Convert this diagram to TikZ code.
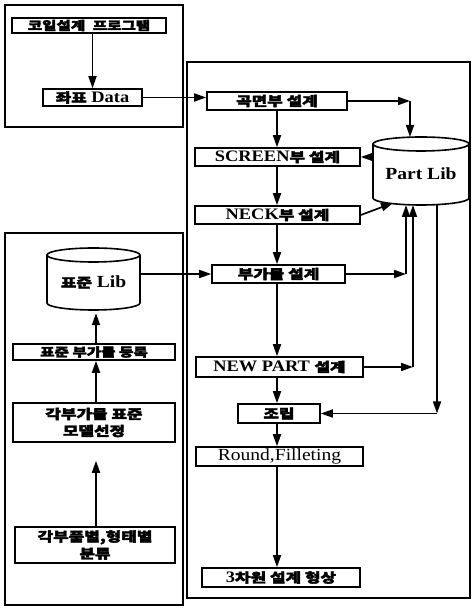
\documentclass[tikz,border=0pt]{standalone}
\usepackage{fontspec}
\setmainfont{Liberation Serif}[FakeStretch=1.15]
\newfontfamily\kr{Noto Sans CJK KR}[FakeBold=3,FakeStretch=1.3]
\newcommand{\krt}[1]{{\kr\bfseries\fontsize{13}{14}\selectfont #1}}
\usetikzlibrary{arrows.meta,calc}
\tikzset{
  box/.style={draw, line width=1.6pt, inner sep=0pt, font=\bfseries\fontsize{16}{16}\selectfont},
  frame/.style={draw, line width=1.5pt},
  arr/.style={line width=1.7pt, -{Triangle[length=12pt,width=8pt]}},
  ln/.style={line width=1.6pt},
  lib/.style={inner sep=0pt, font=\bfseries\fontsize{17}{17}\selectfont},
  krs/.style={font=\kr\bfseries\fontsize{13}{14}\selectfont}
}
\begin{document}
\begin{tikzpicture}[x=1pt,y=1pt]
\useasboundingbox (0,0) rectangle (476,610);
% frames
\draw[frame] (5,483) rectangle (183,605);
\draw[frame] (187,12) rectangle (470,548);
\draw[frame] (5,5) rectangle (183,377);
% left top
\node[box, minimum width=154, minimum height=15, font=\kr\bfseries\fontsize{12}{12}\selectfont] (prog) at (89,584.5) {코일설계\,\, 프로그램};
\node[box, minimum width=99, minimum height=17] (data) at (92.5,512.5) {\krt{좌표} Data};
% right column
\node[box, krs, minimum width=140, minimum height=18] (gok) at (277,509) {곡면부 설계};
\node[box, minimum width=165, minimum height=18] (screen) at (277.5,453) {SCREEN\krt{부 설계}};
\node[box, minimum width=165, minimum height=18] (neck) at (277.5,395) {NECK\krt{부 설계}};
\node[box, krs, minimum width=133, minimum height=18] (buga) at (278.5,336) {부가물 설계};
\node[box, minimum width=167, minimum height=20] (newpart) at (279.5,243) {NEW PART \krt{설계}};
\node[box, krs, minimum width=82, minimum height=19] (jorip) at (279,196.5) {조립};
\node[box, minimum width=167, minimum height=19, font=\fontsize{17}{17}\selectfont] (round) at (279.5,153.5) {Round,Filleting};
\node[box, minimum width=158, minimum height=19] (three) at (281,32.5) {3\krt{차원 설계 형상}};
% Part Lib cylinder
\node[lib, minimum width=96, minimum height=68] (partlib) at (421,436) {Part Lib};
\draw[ln] (373,466) -- (373,412) arc[start angle=180,end angle=360,x radius=48,y radius=7] -- (469,466);
\draw[ln] (421,466) ellipse[x radius=48, y radius=7];
% left bottom
\node[lib, minimum width=93, minimum height=62] (stdlib) at (93.5,328) {\krt{표준} Lib};
\draw[ln] (47,355) -- (47,307) arc[start angle=180,end angle=360,x radius=46.5,y radius=7] -- (140,355);
\draw[ln] (93.5,355) ellipse[x radius=46.5, y radius=7];
\node[box, minimum width=162, minimum height=16, font=\kr\bfseries\fontsize{12}{12}\selectfont] (reg) at (94,258) {표준 부가물 등록};
\node[box, minimum width=162, minimum height=39, align=center, font=\kr\bfseries\fontsize{13}{17}\selectfont] (model) at (94,187.5) {각부가물 표준\\모델선정};
\node[box, minimum width=160, minimum height=36, align=center, font=\kr\bfseries\fontsize{13}{17}\selectfont] (class) at (95,65) {각부품별,형태별\\분류};
% coordinates
\coordinate (col) at (277,0);
\coordinate (lcol) at (96,0);
\coordinate (c1) at (410,509);
\coordinate (plt) at (410,473);
\coordinate (plbl) at (393,407);
\coordinate (c2) at (406,336);
\coordinate (c2t) at (406,405);
\coordinate (c3) at (413,243);
\coordinate (c3t) at (413,405);
\coordinate (c4t) at (437,405);
\coordinate (c4) at (437,196.5);
% connectors
\draw[arr] (prog.south -| data.north) -- (data.north);
\draw[arr] (data.east) -- (data.east -| gok.west);
\draw[arr] (gok.east) -- (c1);
\draw[arr] (c1) -- (plt);
\draw[arr] (partlib.west |- screen.east) -- (screen.east);
\draw[arr] (neck.east) -- (plbl);
\draw[arr] (c2 -| buga.east) -- (c2);
\draw[arr] (c2) -- (c2t);
\draw[arr] (newpart.east) -- (c3);
\draw[arr] (c3) -- (c3t);
\draw[arr] (c4t) -- (c4);
\draw[arr] (c4) -- (jorip.east);
\draw[arr] (col |- gok.south) -- (col |- screen.north);
\draw[arr] (col |- screen.south) -- (col |- neck.north);
\draw[arr] (col |- neck.south) -- (col |- buga.north);
\draw[arr] (col |- buga.south) -- (col |- newpart.north);
\draw[arr] (col |- newpart.south) -- (col |- jorip.north);
\draw[arr] (col |- jorip.south) -- (col |- round.north);
\draw[arr] (col |- round.south) -- (col |- three.north);
\draw[arr] (stdlib.east |- buga.west) -- (buga.west);
\draw[arr] (lcol |- reg.north) -- (lcol |- stdlib.south);
\draw[arr] (lcol |- model.north) -- (lcol |- reg.south);
\draw[arr, shorten >=18pt] (lcol |- class.north) -- (lcol |- model.south);
\end{tikzpicture}
\end{document}
